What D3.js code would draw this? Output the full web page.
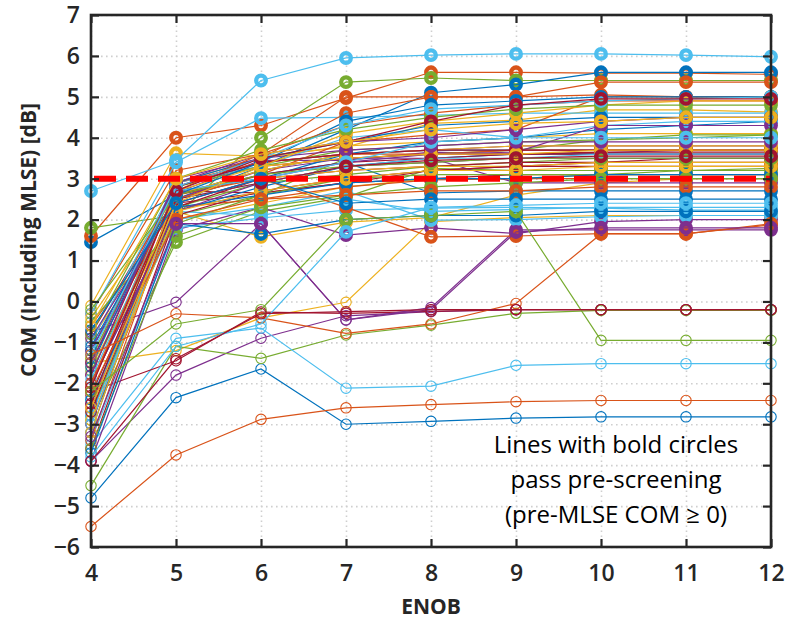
<!DOCTYPE html>
<html>
<head>
<meta charset="utf-8">
<script src="https://cdn.jsdelivr.net/npm/d3@7"></script>
<style>
  body { margin: 0; background: #fff; }
  svg { display: block; }
</style>
</head>
<body>
<div id="chart"></div>
<script>
// x values (ENOB) and y tick values
const enob = [4, 5, 6, 7, 8, 9, 10, 11, 12];
const comTicks = [-6, -5, -4, -3, -2, -1, 0, 1, 2, 3, 4, 5, 6, 7];
const targetCom = 3;
const passLevel = 1;

// one row per simulated channel, COM [dB] at each ENOB
const comCurves = [
  [-4.8, -2.35, -1.65, -3.0, -2.93, -2.85, -2.82, -2.82, -2.82],
  [-5.5, -3.75, -2.88, -2.6, -2.52, -2.45, -2.42, -2.42, -2.42],
  [-1.5, -1.2, -0.4, -0.02, 1.95, 2.05, 2.1, 2.1, 2.1],
  [-3.9, -1.8, -0.9, -0.35, -0.25, -0.2, -0.2, -0.2, -0.2],
  [-4.5, -1.1, -1.39, -0.82, -0.58, -0.29, -0.22, -0.22, -0.22],
  [-3.5, -0.9, -0.65, -2.12, -2.07, -1.56, -1.52, -1.52, -1.52],
  [-2.2, -1.45, -0.26, -0.29, -0.24, -0.2, -0.2, -0.2, -0.2],

  [1.45, 2.6, 3.2, 3.6, 3.7, 3.7, 3.7, 3.7, 3.7],
  [1.6, 4.0, 4.3, 4.97, 5.6, 5.6, 5.58, 5.58, 5.55],
  [-0.1, 3.62, 3.55, 3.77, 4.35, 4.43, 4.68, 4.68, 4.63],
  [-0.75, -0.02, 1.9, -0.45, -0.15, 1.75, 1.75, 1.75, 1.75],
  [1.8, 2.1, 4.0, 5.36, 5.46, 5.4, 5.4, 5.4, 5.4],
  [2.7, 3.45, 5.4, 5.95, 6.02, 6.05, 6.05, 6.02, 5.98],
  [-0.8, 2.7, 2.65, 2.9, 3.0, 3.1, 3.1, 3.1, 3.1],

  [-2.8, 2.5, 3.3, 4.2, 5.1, 5.3, 5.6, 5.6, 5.6],
  [-0.3, 3.2, 3.6, 5.0, 5.0, 5.0, 5.05, 5.0, 5.0],
  [-1.6, 2.2, 1.58, 1.94, 2.05, 2.6, 2.9, 3.0, 3.0],
  [-3.0, 2.65, 3.45, 3.45, 3.65, 3.6, 3.63, 3.7, 3.7],
  [-2.9, 1.45, 2.2, 2.55, 3.25, 3.2, 3.2, 3.2, 3.25],
  [-0.3, 3.4, 4.48, 4.5, 4.55, 4.6, 4.6, 4.6, 4.6],
  [-2.3, 2.4, 2.65, 2.9, 3.2, 3.3, 3.4, 3.5, 3.5],

  [-2.0, 2.2, 2.8, 3.3, 3.5, 3.6, 3.6, 3.6, 3.6],
  [-1.0, 2.8, 3.5, 4.6, 5.0, 5.0, 5.36, 5.36, 5.36],
  [-1.4, 2.9, 3.5, 3.8, 3.9, 4.0, 4.1, 4.1, 4.1],
  [-3.9, 1.75, 2.3, 1.62, 1.8, 1.66, 1.95, 2.0, 2.0],
  [-2.7, 2.1, 2.6, 3.5, 3.6, 3.7, 3.95, 4.07, 4.07],
  [-3.4, 1.8, 2.04, 2.23, 2.28, 2.3, 2.28, 2.23, 2.23],
  [-1.8, 2.9, 3.3, 3.5, 3.6, 3.6, 3.65, 3.65, 3.65],

  [-1.2, 2.5, 3.1, 3.4, 2.65, 2.7, 2.7, 2.7, 2.7],
  [-2.6, 2.6, 3.0, 2.3, 1.58, 1.6, 1.66, 1.66, 1.87],
  [-0.9, 2.0, 2.4, 2.8, 3.0, 3.0, 3.1, 3.1, 3.1],
  [-2.5, 2.5, 3.2, 3.5, 3.5, 2.9, 2.9, 2.9, 2.9],
  [-1.7, 2.3, 2.9, 3.1, 3.3, 3.4, 3.5, 3.5, 3.5],
  [-2.4, 2.0, 2.3, 2.7, 1.99, 2.0, 2.07, 2.1, 2.1],
  [-3.0, 2.3, 3.0, 3.2, 3.3, 3.4, 3.4, 3.4, 3.4],

  [-3.2, 2.7, 3.0, 3.6, 3.9, 4.0, 4.2, 4.3, 4.4],
  [-0.6, 2.3, 2.5, 2.8, 2.97, 3.0, 3.0, 3.0, 3.0],
  [-2.0, 2.4, 3.0, 3.2, 3.3, 3.3, 3.4, 3.4, 3.4],
  [-1.2, 2.8, 3.4, 3.6, 3.7, 3.8, 3.8, 3.8, 3.8],
  [-0.5, 1.9, 2.6, 3.0, 3.1, 3.1, 3.1, 3.2, 3.2],
  [-2.8, 2.2, 2.1, 2.5, 2.2, 2.25, 2.3, 2.3, 2.3],
  [-3.6, 2.1, 2.7, 3.0, 3.2, 3.3, 3.3, 3.3, 3.3],

  [-2.4, 2.3, 2.6, 2.9, 3.0, 3.0, 3.1, 3.1, 3.1],
  [-3.4, 2.5, 3.1, 3.9, 4.07, 4.2, 5.0, 5.0, 5.0],
  [-0.4, 2.6, 3.2, 3.6, 3.7, 3.8, 3.8, 3.8, 3.8],
  [-2.0, 2.2, 2.9, 3.3, 3.4, 3.5, 3.5, 3.5, 3.5],
  [-3.6, 1.6, 2.3, 2.6, 2.8, 2.9, 3.0, 3.0, 3.0],
  [-1.0, 2.9, 3.3, 4.0, 4.2, 4.0, 4.3, 4.4, 4.4],
  [-1.5, 2.6, 3.1, 3.4, 3.5, 3.6, 3.6, 3.6, 3.6],

  [-3.7, 1.9, 1.65, 2.0, 2.1, 2.1, 2.2, 2.2, 2.2],
  [-2.1, 2.9, 3.4, 3.6, 3.6, 3.7, 3.7, 3.7, 3.7],
  [-2.9, 2.2, 2.7, 3.0, 3.2, 3.2, 3.3, 3.3, 3.3],
  [-0.9, 2.4, 3.0, 3.4, 3.6, 3.65, 4.3, 4.3, 4.3],
  [-1.4, 2.8, 3.3, 3.7, 3.8, 3.9, 3.95, 4.0, 4.07],
  [-3.0, 2.5, 2.9, 3.3, 3.5, 3.5, 3.6, 3.6, 3.6],
  [-2.5, 2.8, 3.4, 3.6, 3.7, 3.7, 3.7, 3.7, 3.7],

  [-1.6, 2.9, 3.5, 3.9, 4.3, 4.4, 4.5, 4.5, 4.5],
  [-2.2, 2.0, 2.5, 2.6, 2.7, 2.7, 2.8, 2.8, 2.8],
  [-3.2, 2.7, 3.3, 3.5, 3.6, 3.6, 3.7, 3.7, 3.7],
  [-1.8, 3.0, 3.5, 3.7, 3.8, 3.9, 3.9, 3.9, 3.9],
  [-0.2, 2.6, 3.1, 3.3, 3.4, 3.5, 3.5, 3.5, 3.5],
  [-1.9, 2.7, 3.0, 3.4, 3.9, 4.0, 4.0, 4.0, 4.0],
  [-2.7, 2.5, 2.9, 3.3, 3.45, 3.5, 3.55, 3.55, 3.55],

  [-1.1, 2.6, 3.4, 4.4, 4.8, 4.9, 5.0, 5.0, 5.0],
  [-2.0, 2.7, 3.6, 4.3, 4.6, 4.8, 4.9, 4.9, 4.9],
  [-2.6, 2.4, 3.3, 4.1, 4.4, 4.6, 4.8, 4.9, 4.9],
  [-1.5, 2.9, 3.6, 3.9, 4.0, 4.2, 4.4, 4.5, 4.5],
  [-0.8, 3.0, 3.7, 4.2, 4.5, 4.7, 4.8, 4.8, 4.8],
  [-1.3, 2.8, 3.5, 4.3, 4.7, 4.8, 4.9, 4.95, 5.0],
  [-2.1, 2.7, 3.5, 3.9, 4.4, 4.8, 4.95, 4.95, 4.95],

  [-0.7, 2.4, 3.0, 2.4, 2.5, 2.5, 2.5, 2.5, 2.5],
  [-1.3, -0.3, -0.4, -0.78, -0.55, -0.05, 1.65, 1.65, 1.9],
  [-0.6, 3.0, 3.6, 3.9, 4.2, 4.35, 4.4, 4.5, 4.5],
  [-3.3, 1.9, 1.9, -0.45, -0.2, 1.7, 1.8, 1.8, 1.8],
  [-2.2, -0.55, -0.2, 2.0, 2.1, 2.2, -0.95, -0.95, -0.95],
  [-3.8, -1.1, -0.55, 1.7, 2.3, 2.35, 2.4, 2.4, 2.4],
  [-3.9, -1.4, -0.3, -0.25, -0.2, -0.2, -0.2, -0.2, -0.2],
];

const noteLines = [
  "Lines with bold circles",
  "pass pre-screening",
  "(pre-MLSE COM \u2265 0)",
];

const matlabColors = ["#0072BD", "#D95319", "#EDB120", "#7E2F8E", "#77AC30", "#4DBEEE", "#A2142F"];

const width = 787;
const height = 619;
const margin = { top: 15, right: 16, bottom: 72, left: 91 };
const innerWidth = width - margin.left - margin.right;
const innerHeight = height - margin.top - margin.bottom;
const axisColor = "#262626";
const tickFont = "'Open Sans', 'Noto Sans', sans-serif";

const svg = d3
  .select("#chart")
  .append("svg")
  .attr("width", width)
  .attr("height", height);

const chart = svg
  .append("g")
  .attr("transform", `translate(${margin.left}, ${margin.top})`);

const x = d3.scaleLinear().domain([4, 12]).range([0, innerWidth]);
const y = d3.scaleLinear().domain([-6, 7]).range([innerHeight, 0]);

// dotted grid
const styleGrid = (g) => {
  g.select(".domain").remove();
  g.selectAll(".tick text").remove();
  g.selectAll(".tick line")
    .attr("stroke", "#cfcfcf")
    .attr("stroke-width", 1.6)
    .attr("stroke-dasharray", "1.6 3.4");
};

chart
  .append("g")
  .call(d3.axisLeft(y).tickValues(comTicks).tickSize(-innerWidth))
  .call(styleGrid);

chart
  .append("g")
  .attr("transform", `translate(0, ${innerHeight})`)
  .call(d3.axisBottom(x).tickValues(enob).tickSize(-innerHeight))
  .call(styleGrid);

// curves
const line = d3.line()
  .x((d, i) => x(enob[i]))
  .y((d) => y(d));

comCurves.forEach((values, index) => {
  const color = matlabColors[index % matlabColors.length];
  const curve = chart.append("g");

  curve.append("path")
    .datum(values)
    .attr("fill", "none")
    .attr("stroke", color)
    .attr("stroke-width", 1.2)
    .attr("d", line);

  curve.selectAll("circle")
    .data(values)
    .join("circle")
    .attr("cx", (d, i) => x(enob[i]))
    .attr("cy", (d) => y(d))
    .attr("r", (d) => (d >= passLevel ? 4.8 : 5.2))
    .attr("fill", "none")
    .attr("stroke", color)
    .attr("stroke-width", (d) => (d >= passLevel ? 4.3 : 1.1));
});

// target line
chart.append("line")
  .attr("x1", x(4) + 3)
  .attr("x2", x(12))
  .attr("y1", y(targetCom))
  .attr("y2", y(targetCom))
  .attr("stroke", "#ff0000")
  .attr("stroke-width", 6)
  .attr("stroke-dasharray", "22 10");

// axes (ticks inside, box all round)
const styleAxis = (g) => {
  g.select(".domain").remove();
  g.selectAll(".tick line").attr("stroke", axisColor).attr("stroke-width", 2.2);
  g.selectAll(".tick text")
    .attr("fill", axisColor)
    .attr("font-family", tickFont)
    .attr("font-weight", 600)
    .attr("font-size", 23);
};

const tickOnly = (g) => {
  g.select(".domain").remove();
  g.selectAll(".tick text").remove();
  g.selectAll(".tick line").attr("stroke", axisColor).attr("stroke-width", 2.2);
};

chart.append("g")
  .call(d3.axisLeft(y).tickValues(comTicks).tickSize(-8).tickPadding(11))
  .call(styleAxis);

chart.append("g")
  .attr("transform", `translate(${innerWidth}, 0)`)
  .call(d3.axisRight(y).tickValues(comTicks).tickSize(-8))
  .call(tickOnly);

chart.append("g")
  .attr("transform", `translate(0, ${innerHeight})`)
  .call(d3.axisBottom(x).tickValues(enob).tickSize(-8).tickPadding(18))
  .call(styleAxis);

chart.append("g")
  .call(d3.axisTop(x).tickValues(enob).tickSize(-8))
  .call(tickOnly);

chart.append("rect")
  .attr("width", innerWidth)
  .attr("height", innerHeight)
  .attr("fill", "none")
  .attr("stroke", axisColor)
  .attr("stroke-width", 2.6);

// axis titles
svg.append("text")
  .attr("x", margin.left + innerWidth / 2)
  .attr("y", 614)
  .attr("text-anchor", "middle")
  .attr("fill", axisColor)
  .attr("font-family", tickFont)
  .attr("font-weight", 700)
  .attr("font-size", 21)
  .text("ENOB");

svg.append("text")
  .attr("transform", "translate(36, 240) rotate(-90)")
  .attr("text-anchor", "middle")
  .attr("fill", axisColor)
  .attr("font-family", tickFont)
  .attr("font-weight", 700)
  .attr("font-size", 21)
  .text("COM (Including MLSE) [dB]");

// note
const note = svg.append("text")
  .attr("text-anchor", "middle")
  .attr("fill", "#000")
  .attr("font-family", "'Open Sans', 'Noto Sans', sans-serif")
  .attr("font-size", 24);

noteLines.forEach((text, i) => {
  note.append("tspan")
    .attr("x", 616)
    .attr("y", 453 + i * 35)
    .text(text);
});
</script>
</body>
</html>
